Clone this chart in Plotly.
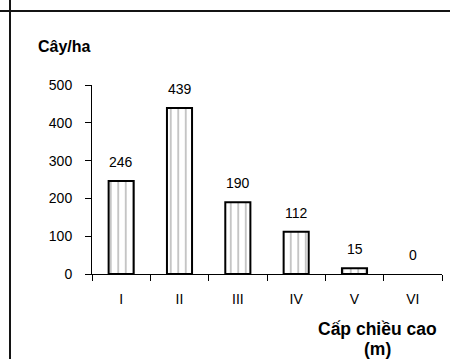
import plotly.graph_objects as go

# Height classes and stem density (trees per hectare)
classes = ["I", "II", "III", "IV", "V", "VI"]
density = [246, 439, 190, 112, 15, 0]

y_title = "Cây/ha"
x_title_lines = ["Cấp chiều cao", "(m)"]

FONT = "Arial, Liberation Sans, sans-serif"

# plot area in page pixels
X0, X1 = 92, 442
Y0, Y1 = 274, 85
PW, PH = X1 - X0, Y0 - Y1


def px_x(px):
    return (px - X0) / PW


def px_y(py):
    return (Y0 - py) / PH


fig = go.Figure()
fig.add_trace(go.Bar(
    x=classes,
    y=density,
    width=0.43,
    marker=dict(
        color="white",
        # empty classes get no outline so nothing is drawn on the axis
        line=dict(color="black", width=[2 if v > 0 else 0 for v in density]),
        pattern=dict(shape="|", fgcolor="#8c8c8c", bgcolor="white",
                     size=7.5, solidity=0.25),
    ),
    hoverinfo="x+y",
))

# value labels above each bar
for c, v in zip(classes, density):
    fig.add_annotation(x=c, y=v, text=str(v), showarrow=False,
                       xref="x", yref="y", yanchor="bottom", yshift=9,
                       font=dict(family=FONT, size=14, color="black"))

# axis titles
fig.add_annotation(text=f"<b>{y_title}</b>", xref="paper", yref="paper",
                   x=px_x(36), y=px_y(47),
                   xanchor="left", yanchor="middle", showarrow=False,
                   font=dict(family=FONT, size=16, color="black"))
fig.add_annotation(text=f"<b>{x_title_lines[0]}</b>", xref="paper", yref="paper",
                   x=px_x(377), y=px_y(329),
                   xanchor="center", yanchor="middle", showarrow=False,
                   font=dict(family=FONT, size=17.5, color="black"))
fig.add_annotation(text=f"<b>{x_title_lines[1]}</b>", xref="paper", yref="paper",
                   x=px_x(377), y=px_y(349),
                   xanchor="center", yanchor="middle", showarrow=False,
                   font=dict(family=FONT, size=17.5, color="black"))

# outer chart frame: left and top edges (the rest runs off the page)
FRAME = "#141414"
fx, fy = px_x(10), px_y(11)
fig.add_shape(type="line", xref="paper", yref="paper",
              x0=fx, x1=fx, y0=px_y(359), y1=px_y(0),
              line=dict(color=FRAME, width=2))
fig.add_shape(type="line", xref="paper", yref="paper",
              x0=px_x(0), x1=px_x(450), y0=fy, y1=fy,
              line=dict(color=FRAME, width=2))

fig.update_layout(
    width=450, height=359,
    margin=dict(l=X0, r=450 - X1, t=Y1, b=359 - Y0, autoexpand=False),
    paper_bgcolor="white", plot_bgcolor="white",
    showlegend=False,
    font=dict(family=FONT, size=14, color="black"),
    xaxis=dict(
        showline=True, linecolor="black", linewidth=1,
        ticks="outside", ticklen=6, tickcolor="black", tickson="boundaries",
        showgrid=False, zeroline=False,
        ticklabelstandoff=12,
        tickfont=dict(family=FONT, size=14, color="black"),
    ),
    yaxis=dict(
        range=[0, 500], dtick=100, tick0=0,
        showline=True, linecolor="black", linewidth=1,
        ticks="outside", ticklen=6, tickcolor="black",
        showgrid=False, zeroline=False,
        ticklabelstandoff=10,
        tickfont=dict(family=FONT, size=14, color="black"),
    ),
)

fig.write_html("out.html", config={"displayModeBar": False})
